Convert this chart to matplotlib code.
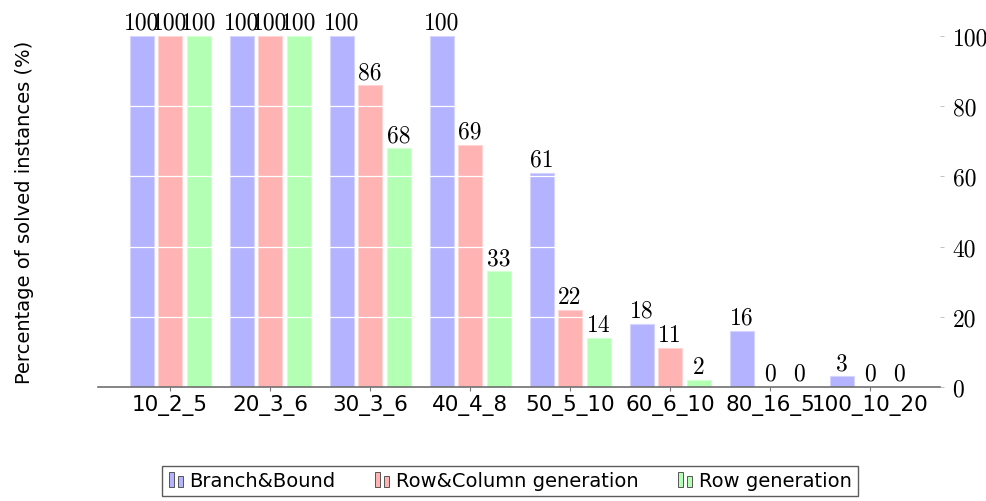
import matplotlib
matplotlib.use("Agg")
import matplotlib.pyplot as plt
from matplotlib.patches import Rectangle
from matplotlib.legend_handler import HandlerBase
import numpy as np

categories = ["10_2_5", "20_3_6", "30_3_6", "40_4_8", "50_5_10", "60_6_10", "80_16_5", "100_10_20"]
series_names = ["Branch&Bound", "Row&Column generation", "Row generation"]
bb = [100, 100, 100, 100, 61, 18, 16, 3]
rc = [100, 100, 86, 69, 22, 11, 0, 0]
rg = [100, 100, 68, 33, 14, 2, 0, 0]
yticks = [0, 20, 40, 60, 80, 100]

fills = ["#b3b3ff", "#ffb3b3", "#b3ffb3"]
edges = ["#d4d4ff", "#ffd4d4", "#d4ffd4"]

plt.rcParams['axes.formatter.use_mathtext'] = True
serif = ['cmr10', 'DejaVu Serif']
sans = ['DejaVu Sans']

fig = plt.figure(figsize=(9.87, 5.02), dpi=100)
ax = fig.add_axes([98/987, 1-388/502, (940-98)/987, (388-37)/502])

x = np.arange(len(categories))
width = 0.24
offs = [-0.285, 0.0, 0.285]
for vals, off, fc, ec, name in zip([bb, rc, rg], offs, fills, edges, series_names):
    ax.bar(x + off, vals, width, color=fc, edgecolor=ec, linewidth=0.8, label=name, zorder=2)
    for xi, v in zip(x + off, vals):
        ax.annotate(str(v), (xi, v), xytext=(0, 1.5), textcoords='offset points',
                    ha='center', va='bottom', fontsize=17, family=serif, clip_on=False, zorder=5)

ax.set_xlim(-0.72, 7.70)
ax.set_ylim(0, 100)
ax.set_xticks(x)
ax.set_xticklabels(categories, family=sans, fontsize=15.5)
ax.set_yticks(yticks)
ax.set_yticklabels([str(t) for t in yticks], family=serif, fontsize=17)
ax.yaxis.tick_right()
ax.tick_params(axis='y', length=3, width=0.5, color='#aaaaaa', pad=6)
ax.tick_params(axis='x', length=3, width=0.8, color='#777777', pad=2)
for s in ['top', 'left', 'right']:
    ax.spines[s].set_visible(False)
ax.spines['bottom'].set_color('#707070')
ax.spines['bottom'].set_linewidth(1.2)
ax.spines['bottom'].set_zorder(4)

for t in yticks[1:-1]:
    ax.axhline(t, color='white', linewidth=0.9, zorder=3)

fig.text(25/987, 1-212/502, "Percentage of solved instances (%)", rotation=90,
         ha='center', va='center', fontsize=14, family=sans)


class TwoBarHandler(HandlerBase):
    def __init__(self, fc):
        super().__init__()
        self.fc = fc

    def create_artists(self, legend, orig_handle, xdescent, ydescent, width, height, fontsize, trans):
        w = width * 0.28
        r1 = Rectangle((-xdescent + width * 0.05, -ydescent), w, height * 1.05,
                       facecolor=self.fc, edgecolor='#555555', linewidth=0.7, transform=trans)
        r2 = Rectangle((-xdescent + width * 0.55, -ydescent), w, height * 0.8,
                       facecolor=self.fc, edgecolor='#555555', linewidth=0.7, transform=trans)
        return [r1, r2]


handles = [Rectangle((0, 0), 1, 1) for _ in series_names]
hmap = {h: TwoBarHandler(fc) for h, fc in zip(handles, fills)}
leg = fig.legend(handles, series_names, handler_map=hmap, loc='center',
                 bbox_to_anchor=(510/987, 1-482/502), ncol=3, frameon=True, fancybox=False,
                 edgecolor='#333333', prop={'family': sans, 'size': 14},
                 handlelength=0.9, handletextpad=0.2, columnspacing=2.0,
                 borderpad=0.3)
leg.get_frame().set_linewidth(1.0)

fig.savefig("out.png", dpi=100)
